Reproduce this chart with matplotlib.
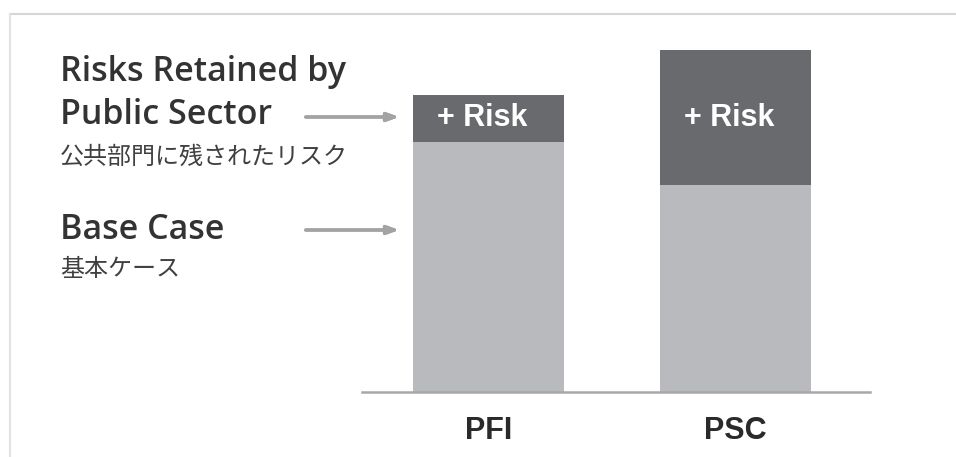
import matplotlib.pyplot as plt
from matplotlib.lines import Line2D

categories = ['PFI', 'PSC']
base_case = [250, 207]
risk = [47, 135]
bar_label = '+ Risk'

legend_en = ['Risks Retained by', 'Public Sector', 'Base Case']
legend_jp = ['公共部門に残されたリスク', '基本ケース']

W, H = 956, 457
fig = plt.figure(figsize=(W / 100, H / 100), dpi=100)
fig.patch.set_facecolor('white')


def fx(px):
    return px / W


def fy(py):
    return 1 - py / H


# axes: baseline at y=392 px, from x=362 to 870 px
ax = fig.add_axes([fx(362), fy(392), fx(870) - fx(362), fy(14) - fy(392)])
ax.set_xlim(-0.512, 1.545)
ax.set_ylim(0, 378)
x = range(len(categories))
ax.bar(x, base_case, width=0.61, color='#b9babd', zorder=2)
bars = ax.bar(x, risk, bottom=base_case, width=0.61, color='#696a6d', zorder=2)

for rect, b, r in zip(bars, base_case, risk):
    ax.text(rect.get_x() + rect.get_width() * 0.46, b + r / 2, bar_label,
            ha='center', va='center', color='white', fontsize=22,
            fontweight='bold', family=['Liberation Sans', 'DejaVu Sans'])

for s in ['top', 'right', 'left']:
    ax.spines[s].set_visible(False)
ax.spines['bottom'].set_color('#a8a8a8')
ax.spines['bottom'].set_linewidth(1.8)
ax.set_yticks([])
ax.set_xticks(list(x))
ax.set_xticklabels(categories, fontsize=22, fontweight='bold', color='#2a2a2a',
                   family=['Liberation Sans', 'DejaVu Sans'])
ax.tick_params(axis='x', length=0, pad=17)
ax.patch.set_alpha(0)

# frame lines of the original graphic
fig.add_artist(Line2D([fx(10), 1], [fy(14), fy(14)], color='#d6d6d6', lw=1.5))
fig.add_artist(Line2D([fx(10), fx(10)], [0, fy(14)], color='#e2e2e2', lw=1.5))

# left-hand key
en_font = ['Open Sans', 'DejaVu Sans']
jp_font = ['Noto Sans CJK JP', 'DejaVu Sans']
for txt, ypx in zip(legend_en, [72, 115, 230]):
    fig.text(fx(60), fy(ypx), txt, fontsize=24.5, color='#333333',
             family=en_font, fontweight='semibold', va='center')
for txt, ypx in zip(legend_jp, [157, 269]):
    fig.text(fx(60), fy(ypx), txt, fontsize=17.3, color='#404040',
             family=jp_font, va='center')

for ypx in [117, 230]:
    fig.add_artist(plt.annotate('', xy=(fx(402), fy(ypx)), xycoords='figure fraction',
                                xytext=(fx(303), fy(ypx)), textcoords='figure fraction',
                                arrowprops=dict(arrowstyle='-|>,head_length=0.7,head_width=0.25',
                                                color='#a3a3a3', lw=2.4)))

fig.savefig('out.png', dpi=100)
